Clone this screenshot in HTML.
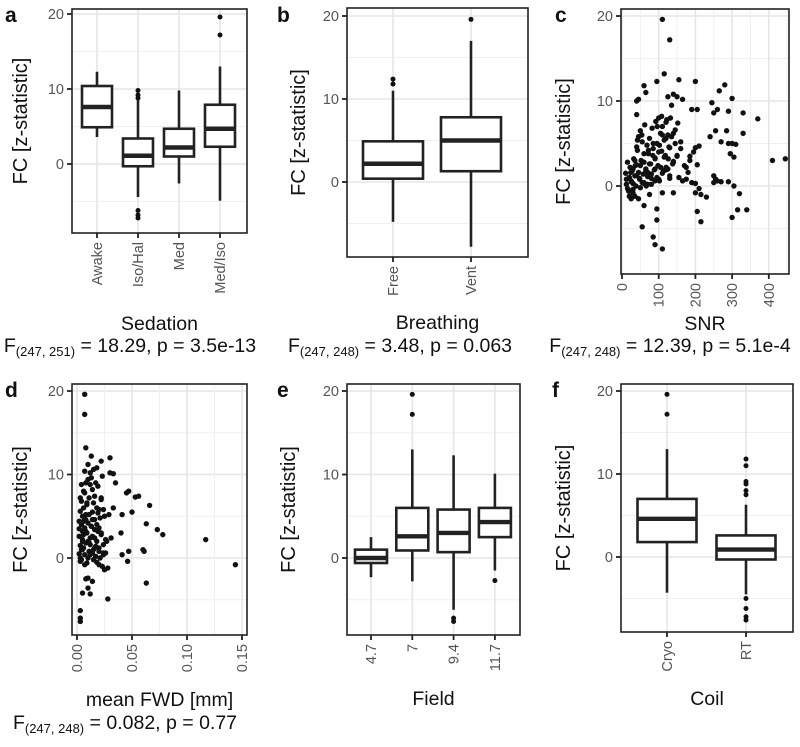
<!DOCTYPE html>
<html><head><meta charset="utf-8">
<style>
html,body{margin:0;padding:0;background:#fff;}
svg{display:block;font-family:"Liberation Sans",Arial,sans-serif;}
</style></head>
<body>
<svg id="fig" width="800" height="747" viewBox="0 0 800 747" xmlns="http://www.w3.org/2000/svg"></svg>
<script>
// ---------- data ----------
const sedationCats = ["Awake","Iso/Hal","Med","Med/Iso"];
const sedationStats = [[3.6,4.9,7.6,10.4,12.3],[-4.4,-0.3,1.1,3.4,8.6],[-2.6,1.0,2.2,4.7,9.8],[-4.9,2.3,4.7,7.9,13.0]];
const sedationOut = [[],[9.8,9.2,8.8,-6.2,-6.8,-7.2],[],[17.2,19.6]];
const breathingCats = ["Free","Vent"];
const breathingStats = [[-4.8,0.4,2.2,4.9,11.0],[-7.8,1.3,5.0,7.8,17.0]];
const breathingOut = [[11.8,12.4],[19.6]];
const fieldCats = ["4.7","7","9.4","11.7"];
const fieldStats = [[-2.3,-0.6,0.0,1.0,2.5],[-2.8,0.9,2.6,6.0,13.0],[-6.2,0.7,3.0,5.8,12.3],[-1.5,2.5,4.3,6.0,10.1]];
const fieldOut = [[],[17.2,19.6],[-7.2,-7.6],[-2.7]];
const coilCats = ["Cryo","RT"];
const coilStats = [[-4.3,1.8,4.6,7.0,13.0],[-4.5,-0.3,0.9,2.6,6.3]];
const coilOut = [[17.2,19.6],[7.5,8.0,8.8,9.1,11.0,11.8,-5.0,-6.2,-7.2,-7.6]];
const snrX = [110,130,115,95,60,65,45,40,155,200,140,125,150,165,40,135,190,205,245,265,280,300,250,260,290,330,370,330,285,255,240,270,290,300,310,305,295,410,445,200,210,195,185,205,180,175,165,200,210,190,200,215,230,250,255,260,270,250,290,305,320,300,315,340,205,215,140,110,95,95,85,90,110,60,55,75,45,35,25,
 10,12,15,18,20,22,25,28,30,32,35,38,40,42,45,48,50,52,55,58,60,62,65,68,70,72,75,78,80,82,85,88,90,92,95,98,100,102,105,108,110,112,115,118,120,122,125,128,130,135,140,145,150,155,160,170,
 15,20,25,30,35,40,45,50,55,60,65,70,75,80,85,90,95,100,105,110,115,120,125,130,140,150,160,175,185,
 12,18,24,30,36,42,48,54,60,66,72,78,84,90,96,102,108,114,120,126,132,138,145,152,
 20,30,40,50,60,70,80,90,100,110,120,130,140];
const snrY = [19.6,17.2,13.2,12.3,11.8,11.0,10.2,10.0,12.5,12.3,10.8,10.5,10.5,10.2,8.4,9.5,9.0,9.0,9.8,11.2,11.9,10.3,8.6,9.0,8.8,8.6,7.9,6.2,6.5,6.5,5.8,5.2,5.0,5.0,4.9,3.4,3.8,3.0,3.2,4.5,4.7,4.0,3.5,2.5,1.6,0.8,0.6,0.3,-0.3,0.4,-0.8,-1.0,-1.3,1.2,0.8,0.6,0.5,0.4,0.5,0.0,-0.9,-3.7,-2.8,-2.8,-3.0,-4.2,-0.8,-0.8,-2.7,-4.0,-6.0,-6.9,-7.4,-2.3,-4.8,-1.0,-1.5,-1.2,-1.5,
 1.5,0.2,2.8,-0.5,1.0,2.2,0.5,1.8,-0.8,3.2,1.2,0.0,2.5,4.2,1.6,0.8,6.5,3.0,5.2,1.4,0.3,7.2,2.0,4.8,1.1,3.8,5.6,2.6,0.9,6.8,4.4,1.9,3.3,7.6,5.0,2.4,8.0,0.6,6.2,4.1,7.0,1.7,5.4,3.6,2.2,7.8,6.0,4.6,1.2,5.8,2.8,6.6,3.5,1.0,5.2,2.4,
 -0.3,1.0,0.6,2.0,3.0,4.6,5.8,2.4,0.4,3.8,1.8,0.2,2.6,1.4,5.0,3.2,1.0,4.0,2.2,6.0,3.4,7.5,2.0,4.5,6.2,3.6,4.4,2.2,3.0,
 0.8,-0.6,1.6,0.3,2.4,5.4,0.9,6.0,2.8,0.0,4.2,1.4,3.6,0.6,7.0,4.8,8.2,1.8,5.6,3.2,8.0,2.6,5.0,7.4,
 -1.2,-0.4,1.2,-0.2,0.4,1.6,0.2,2.0,0.8,1.5,1.9,0.9,2.9];
const fwdX = [0.007,0.007,0.008,0.030,0.030,0.033,0.035,0.045,0.047,0.053,0.056,0.066,0.050,0.041,0.040,0.063,0.073,0.078,0.117,0.144,0.063,0.060,0.061,0.047,0.041,0.046,0.028,0.003,0.003,0.003,0.005,0.010,0.012,0.010,0.014,0.008,
 0.002,0.003,0.004,0.005,0.006,0.007,0.008,0.009,0.010,0.011,0.012,0.013,0.014,0.015,0.016,0.017,0.018,0.019,0.020,0.021,0.022,0.023,0.024,0.025,0.026,0.028,
 0.002,0.003,0.004,0.005,0.006,0.007,0.008,0.009,0.010,0.011,0.012,0.013,0.014,0.015,0.016,0.017,0.018,0.019,0.020,0.021,0.022,0.023,0.024,0.026,
 0.002,0.003,0.004,0.005,0.006,0.007,0.008,0.009,0.010,0.011,0.012,0.013,0.014,0.015,0.016,0.017,0.018,0.019,0.020,0.022,0.024,0.027,
 0.002,0.003,0.004,0.005,0.006,0.007,0.008,0.009,0.010,0.011,0.012,0.013,0.014,0.015,0.016,0.018,0.020,0.022,0.025,0.029,0.031,0.033,
 0.003,0.004,0.005,0.006,0.007,0.008,0.010,0.012,0.014,0.016,0.018,0.020,0.022,0.024];
const fwdY = [19.6,17.2,13.2,12.0,10.2,10.1,9.0,7.8,8.0,7.3,7.4,6.3,5.5,5.2,3.0,4.1,3.4,2.8,2.2,-0.8,-3.0,1.0,0.8,0.8,0.4,-0.4,-4.9,-6.3,-7.2,-7.6,-4.2,-3.6,-4.3,-2.4,-2.8,-2.5,
 0.5,1.5,4.0,2.0,6.0,10.4,9.0,3.0,11.2,0.8,2.4,12.2,5.5,1.0,7.4,0.2,-0.5,8.6,1.2,0.0,11.6,-1.0,5.8,-1.4,2.2,-1.2,
 3.5,-0.4,1.0,5.0,8.0,3.6,1.8,6.6,4.2,7.2,0.4,9.6,2.6,10.6,4.6,1.4,6.0,3.2,0.8,4.8,2.8,9.8,1.6,0.6,
 2.6,5.6,-0.2,3.2,1.2,7.8,5.2,-0.6,0.0,5.2,1.6,3.8,8.2,-0.2,3.4,9.0,2.0,5.4,3.6,7.0,0.6,2.0,
 4.4,0.0,6.8,1.0,2.8,0.4,4.6,6.4,9.4,1.8,10.2,3.8,0.6,6.6,2.4,4.0,-0.8,3.0,5.0,5.2,2.4,6.0,
 7.2,8.8,2.2,4.4,-0.8,3.2,2.0,8.8,4.6,1.2,10.8,5.8,7.2,0.4];

// ---------- drawing ----------
const NS="http://www.w3.org/2000/svg";
const svg=document.getElementById('fig');
function el(tag,attrs,parent){const e=document.createElementNS(NS,tag);for(const k in attrs)e.setAttribute(k,attrs[k]);(parent||svg).appendChild(e);return e;}
function txt(s,attrs,parent){const e=el('text',attrs,parent);e.textContent=s;return e;}

function panel(cfg){
  const g=el('g',{});
  
  
  const yS=v=>cfg.y0-cfg.yu*v;
  const grid=el('g',{},g);
  
  
  [-5,5,15].forEach(v=>el('line',{x1:cfg.L,x2:cfg.R,y1:yS(v),y2:yS(v),stroke:'#f0f0f0','stroke-width':1},grid));
  [0,10,20].forEach(v=>el('line',{x1:cfg.L,x2:cfg.R,y1:yS(v),y2:yS(v),stroke:'#e6e6e6','stroke-width':1.6},grid));
  let xPos=[],xLabels=[];
  if(cfg.cats){
    xPos=cfg.cats.map((c,i)=>cfg.cx0+i*cfg.cdx);xLabels=cfg.cats;
  } else {
    xPos=cfg.xticks.map(cfg.xS);xLabels=cfg.xlab;
    cfg.xminor.forEach(v=>el('line',{x1:cfg.xS(v),x2:cfg.xS(v),y1:cfg.T,y2:cfg.B,stroke:'#f0f0f0','stroke-width':1},grid));
  }
  xPos.forEach(x=>el('line',{x1:x,x2:x,y1:cfg.T,y2:cfg.B,stroke:'#e6e6e6','stroke-width':1.6},grid));
  if(cfg.stats){
    cfg.stats.forEach((s,i)=>{
      const x=xPos[i],w=cfg.bw;
      const b=el('g',{},g);
      
      
      el('line',{x1:x,x2:x,y1:yS(s[0]),y2:yS(s[1]),stroke:'#222','stroke-width':2.6},b);
      el('line',{x1:x,x2:x,y1:yS(s[3]),y2:yS(s[4]),stroke:'#222','stroke-width':2.6},b);
      el('rect',{x:x-w/2,y:yS(s[3]),width:w,height:yS(s[1])-yS(s[3]),fill:'#fff',stroke:'#222','stroke-width':2.6},b);
      el('line',{x1:x-w/2,x2:x+w/2,y1:yS(s[2]),y2:yS(s[2]),stroke:'#222','stroke-width':4.4},b);
      cfg.out[i].forEach(v=>{const c=el('circle',{cx:x,cy:yS(v),r:2.5,fill:'#111'},b);
        
        });
    });
  } else {
    const pts=el('g',{},g);
    
    
    cfg.px.forEach((v,i)=>{const c=el('circle',{cx:cfg.xS(v),cy:yS(cfg.py[i]),r:2.7,fill:'#111'},pts);
      
      });
  }
  const br=el('rect',{x:cfg.L,y:cfg.T,width:cfg.R-cfg.L,height:cfg.B-cfg.T,fill:'none',stroke:'#222','stroke-width':1.6},g);
  
  
  [0,10,20].forEach(v=>{
    el('line',{x1:cfg.L-5,x2:cfg.L,y1:yS(v),y2:yS(v),stroke:'#222','stroke-width':1.8},g);
    const t=txt(String(v),{x:cfg.L-8,y:yS(v)+5,'text-anchor':'end','font-size':14.5,fill:'#555'},g);
    
    
  });
  xPos.forEach((x,i)=>{
    el('line',{x1:x,x2:x,y1:cfg.B,y2:cfg.B+5,stroke:'#222','stroke-width':1.8},g);
    const ty=cfg.B+9;
    const t=txt(xLabels[i],{x:0,y:0,'text-anchor':'end','font-size':14.5,fill:'#555',transform:`translate(${x+5},${ty}) rotate(-90)`},g);
    
    
  });
  const yt=txt('FC [z-statistic]',{x:0,y:0,'text-anchor':'middle','font-size':20,fill:'#111',transform:`translate(${cfg.ytx},${(cfg.T+cfg.B)/2}) rotate(-90)`},g);
  
  
  const xt=txt(cfg.xtitle,{x:(cfg.L+cfg.R)/2,y:cfg.xty,'text-anchor':'middle','font-size':19.5,fill:'#111'},g);
  
  
  const lt=txt(cfg.id,{x:cfg.lx,y:cfg.ly,'font-size':21,'font-weight':'bold',fill:'#111'},g);
  
  
  if(cfg.stat){
    const st=el('text',{x:cfg.sx,y:cfg.sy,'text-anchor':'middle','font-size':19.5,fill:'#111'},g);
    
    
    const a=document.createElementNS(NS,'tspan');a.textContent='F';st.appendChild(a);
    const b=document.createElementNS(NS,'tspan');b.setAttribute('font-size','13');b.setAttribute('dy','4');b.textContent=cfg.stat[0];st.appendChild(b);
    const c=document.createElementNS(NS,'tspan');c.setAttribute('dy','-4');c.textContent=' = '+cfg.stat[1];st.appendChild(c);
  }
}

panel({id:'a',L:72,R:247,T:9,B:233,y0:164,yu:7.5,cats:sedationCats,cx0:97,cdx:41,bw:30,stats:sedationStats,out:sedationOut,
  ytx:27,xtitle:'Sedation',xty:330,lx:5,ly:22,stat:['(247, 251)','18.29, p = 3.5e-13'],sx:130,sy:352});
panel({id:'b',L:347,R:528,T:8,B:257,y0:182,yu:8.3,cats:breathingCats,cx0:393,cdx:78,bw:60,stats:breathingStats,out:breathingOut,
  ytx:305,xtitle:'Breathing',xty:329,lx:277,ly:22,stat:['(247, 248)','3.48, p = 0.063'],sx:400,sy:352});
panel({id:'c',L:621,R:789,T:9,B:274,y0:186,yu:8.5,xS:v=>622+0.367*v,xticks:[0,100,200,300,400],xlab:['0','100','200','300','400'],xminor:[50,150,250,350,450],
  px:snrX,py:snrY,ytx:570,xtitle:'SNR',xty:330,lx:555,ly:22,stat:['(247, 248)','12.39, p = 5.1e-4'],sx:670,sy:352});
panel({id:'d',L:72,R:247,T:384,B:635,y0:558,yu:8.35,xS:v=>77+1100*v,xticks:[0,0.05,0.10,0.15],xlab:['0.00','0.05','0.10','0.15'],xminor:[0.025,0.075,0.125],
  px:fwdX,py:fwdY,ytx:27,xtitle:'mean FWD [mm]',xty:706,lx:5,ly:397,stat:['(247, 248)','0.082, p = 0.77'],sx:125,sy:729});
panel({id:'e',L:347,R:520,T:384,B:635,y0:558,yu:8.35,cats:fieldCats,cx0:371,cdx:41.3,bw:32,stats:fieldStats,out:fieldOut,
  ytx:295,xtitle:'Field',xty:705,lx:277,ly:397});
panel({id:'f',L:621,R:793,T:384,B:632,y0:557,yu:8.3,cats:coilCats,cx0:667,cdx:79,bw:59,stats:coilStats,out:coilOut,
  ytx:570,xtitle:'Coil',xty:705,lx:552,ly:397});
</script>
</body></html>
